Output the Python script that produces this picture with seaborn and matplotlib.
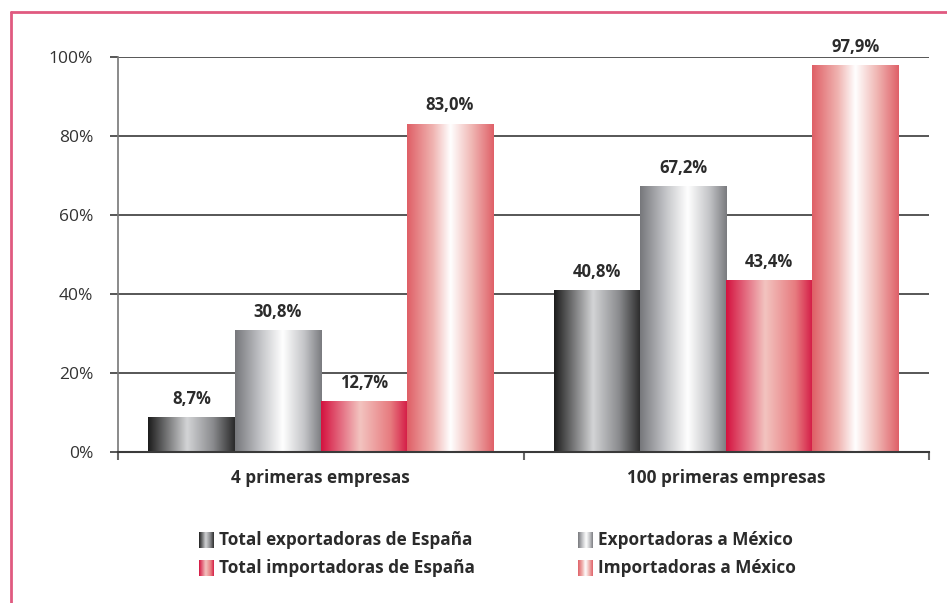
import numpy as np
import pandas as pd
import matplotlib
matplotlib.use("Agg")
import matplotlib.pyplot as plt
from matplotlib.colors import LinearSegmentedColormap
from matplotlib.lines import Line2D
import seaborn as sns

groups = ["4 primeras empresas", "100 primeras empresas"]
series = ["Total exportadoras de España", "Exportadoras a México",
          "Total importadoras de España", "Importadoras a México"]
vals_4 = [8.7, 30.8, 12.7, 83.0]
vals_100 = [40.8, 67.2, 43.4, 97.9]
yticks = [0, 20, 40, 60, 80, 100]

# gradient stops for each series (left -> right across the bar)
grad_stops = [
    [(0.0, "#1c1c1c"), (0.45, "#d3d4d6"), (0.75, "#8a8b8e"), (1.0, "#2a2a2a")],
    [(0.0, "#76777b"), (0.3, "#c5c6c9"), (0.55, "#ffffff"), (0.8, "#c3c4c7"), (1.0, "#7a7b7f")],
    [(0.0, "#d4123f"), (0.45, "#f3c4c0"), (0.8, "#e77b7f"), (1.0, "#d41a45")],
    [(0.0, "#df5f66"), (0.3, "#f0b4b1"), (0.5, "#ffffff"), (0.75, "#f0b6b3"), (1.0, "#df6068")],
]
cmaps = [LinearSegmentedColormap.from_list(f"g{i}", s) for i, s in enumerate(grad_stops)]

df = pd.DataFrame({
    "grupo": np.repeat(groups, len(series)),
    "serie": series * len(groups),
    "valor": vals_4 + vals_100,
})

sns.set_style("white")
plt.rcParams["font.family"] = ["Open Sans", "DejaVu Sans"]

fig = plt.figure(figsize=(9.47, 6.03), dpi=100)
ax = fig.add_axes([118 / 947, 151 / 603, 811 / 947, 395 / 603])

sns.barplot(data=df, x="grupo", y="valor", hue="serie", order=groups,
            hue_order=series, width=0.85, ax=ax, legend=False,
            palette=["#333333", "#999999", "#d4123f", "#e06068"])

grad = np.linspace(0, 1, 256).reshape(1, -1)
for i, cont in enumerate(ax.containers):
    labels = []
    for bar in cont:
        x, w, h = bar.get_x(), bar.get_width(), bar.get_height()
        bar.set_facecolor("none")
        bar.set_edgecolor("none")
        ax.imshow(grad, cmap=cmaps[i], extent=[x, x + w, 0, h], aspect="auto",
                  interpolation="bicubic", zorder=2)
        labels.append(f"{h:.1f}%".replace(".", ","))
    ax.bar_label(cont, labels=labels, padding=7, fontsize=12, fontweight="bold",
                 color="#2b2b2b", clip_on=False)

ax.set_xlim(-0.5, 1.5)
ax.set_ylim(0, 100)
ax.set_yticks(yticks)
ax.set_yticklabels([f"{t}%" for t in yticks], fontsize=12.5, color="#333333")
ax.yaxis.grid(True, color="#3a3a3a", linewidth=1.2)
ax.set_axisbelow(True)
ax.tick_params(axis="y", length=6, width=1.2, color="#3a3a3a", pad=12, left=True)
ax.set_xticks([0, 1])
ax.set_xticklabels(groups, fontsize=12.3, fontweight="bold", color="#2b2b2b")
ax.tick_params(axis="x", length=0, pad=12)
ax.set_xticks([-0.5, 0.5, 1.5], minor=True)
ax.tick_params(axis="x", which="minor", length=6, width=1.5, color="#666666", bottom=True)
ax.set_xlabel("")
ax.set_ylabel("")

for side in ["top", "right"]:
    ax.spines[side].set_visible(False)
ax.spines["left"].set_color("#777777")
ax.spines["left"].set_linewidth(1.2)
ax.spines["bottom"].set_color("#3a3a3a")
ax.spines["bottom"].set_linewidth(1.5)

# legend built by hand so the swatches carry the gradients
leg_pos = [(199, 540), (578, 540), (199, 568), (578, 568)]
for (px, py), name, cm in zip(leg_pos, series, cmaps):
    lax = fig.add_axes([px / 947, 1 - (py + 8) / 603, 15 / 947, 16 / 603])
    lax.imshow(grad, cmap=cm, aspect="auto", interpolation="bicubic")
    lax.axis("off")
    fig.text((px + 20) / 947, 1 - py / 603, name, fontsize=12.4, fontweight="bold",
             color="#2b2b2b", va="center", ha="left")

# pink frame
frame_c = "#e05a80"
fig.add_artist(Line2D([11 / 947, 11 / 947], [0, 1 - 12 / 603], color=frame_c,
                      linewidth=2, transform=fig.transFigure))
fig.add_artist(Line2D([11 / 947, 1], [1 - 12 / 603, 1 - 12 / 603], color=frame_c,
                      linewidth=2, transform=fig.transFigure))

fig.savefig("out.png", dpi=100)
